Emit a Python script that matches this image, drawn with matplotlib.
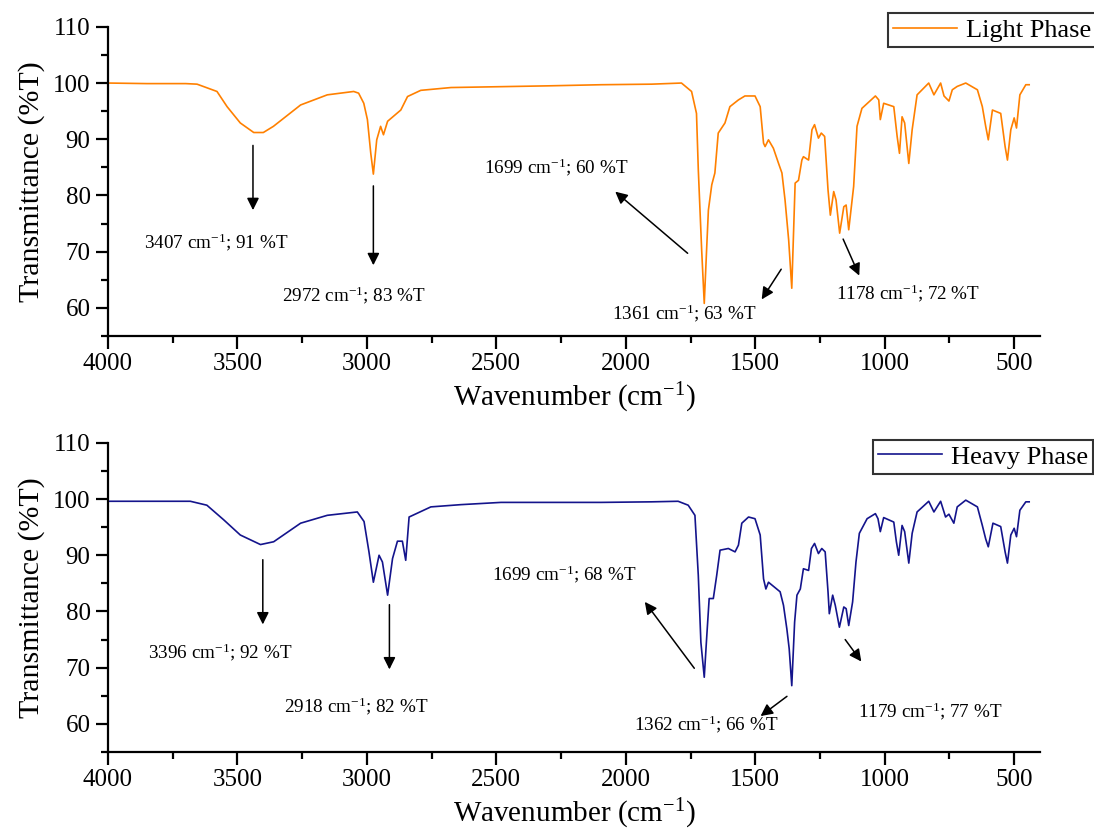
import matplotlib
matplotlib.use('Agg')
import matplotlib.pyplot as plt
from matplotlib.ticker import MultipleLocator

plt.rcParams['font.family'] = ['Liberation Serif', 'DejaVu Serif']
plt.rcParams['mathtext.default'] = 'regular'

# Light phase spectrum (wavenumber cm-1, %T)
wn_light = [4000, 3850, 3700, 3656, 3579, 3540, 3489, 3437, 3400, 3361,
            3256, 3153, 3051, 3032, 3012, 2998, 2985, 2975, 2962, 2947,
            2936, 2920, 2869, 2843, 2792, 2675, 2301, 2095, 1900, 1785,
            1746, 1727, 1720, 1707, 1697, 1688, 1681, 1668, 1656, 1643,
            1617, 1598, 1565, 1540, 1501, 1481, 1468, 1462, 1449, 1430,
            1410, 1397, 1385, 1371, 1359, 1346, 1333, 1320, 1314, 1294,
            1281, 1271, 1256, 1245, 1232, 1219, 1210, 1197, 1188, 1174,
            1158, 1149, 1139, 1120, 1107, 1088, 1036, 1023, 1017, 1004,
            965, 952, 943, 933, 923, 907, 894, 875, 830, 810,
            784, 771, 752, 739, 720, 687, 642, 623, 610, 600,
            584, 552, 535, 526, 513, 500, 491, 478, 455, 442]
t_light = [100.0, 99.9, 99.9, 99.8, 98.5, 95.8, 92.9, 91.2, 91.2, 92.3,
           96.1, 97.9, 98.5, 98.2, 96.4, 93.5, 87.5, 83.8, 89.9, 92.3,
           90.8, 93.2, 95.2, 97.6, 98.7, 99.2, 99.5, 99.7, 99.8, 100.0,
           98.5, 94.6, 84.6, 70.3, 60.8, 70.3, 77.4, 81.9, 84.0, 91.1,
           92.9, 95.8, 97.0, 97.7, 97.7, 95.8, 89.3, 88.7, 89.9, 88.4,
           85.7, 84.0, 79.2, 72.1, 63.5, 82.2, 82.7, 86.3, 86.9, 86.3,
           91.7, 92.6, 90.2, 91.1, 90.5, 81.0, 76.5, 80.7, 79.2, 73.3,
           78.0, 78.3, 73.9, 81.6, 92.3, 95.5, 97.7, 97.0, 93.5, 96.4,
           95.8, 90.5, 87.5, 94.0, 92.9, 85.7, 91.7, 97.9, 100.0, 97.9,
           100.0, 97.7, 96.8, 98.8, 99.4, 100.0, 98.8, 95.8, 92.3, 89.9,
           95.2, 94.6, 88.7, 86.3, 91.7, 93.8, 92.0, 97.9, 99.7, 99.7]

# Heavy phase spectrum
wn_heavy = [4000, 3850, 3682, 3618, 3553, 3489, 3411, 3360, 3256, 3153,
            3037, 3011, 2992, 2975, 2953, 2940, 2920, 2901, 2882, 2863,
            2850, 2837, 2753, 2637, 2482, 2095, 1900, 1798, 1759, 1733,
            1720, 1710, 1697, 1688, 1678, 1662, 1649, 1636, 1604, 1578,
            1565, 1552, 1526, 1501, 1481, 1468, 1459, 1449, 1404, 1391,
            1378, 1369, 1359, 1348, 1339, 1326, 1314, 1294, 1283, 1271,
            1256, 1243, 1230, 1219, 1214, 1201, 1191, 1175, 1158, 1149,
            1139, 1124, 1111, 1098, 1068, 1036, 1026, 1017, 1004, 965,
            955, 946, 933, 923, 907, 894, 875, 830, 810, 784,
            765, 752, 733, 720, 687, 642, 623, 610, 600, 582,
            552, 535, 526, 513, 500, 491, 478, 455, 442]
t_heavy = [99.6, 99.6, 99.6, 98.9, 96.3, 93.6, 91.9, 92.4, 95.7, 97.1,
           97.7, 96.0, 90.6, 85.2, 90.0, 88.8, 82.9, 89.4, 92.5, 92.5,
           89.1, 96.8, 98.6, 99.0, 99.4, 99.4, 99.5, 99.6, 98.9, 97.1,
           86.4, 74.5, 68.3, 75.1, 82.3, 82.3, 86.4, 90.9, 91.2, 90.6,
           91.8, 95.7, 96.8, 96.5, 93.6, 85.8, 84.0, 85.2, 83.5, 81.1,
           76.9, 73.4, 66.8, 78.1, 82.9, 84.0, 87.6, 87.3, 91.2, 92.1,
           90.3, 91.2, 90.6, 83.5, 79.6, 82.9, 81.1, 77.2, 80.8, 80.5,
           77.5, 81.7, 88.8, 93.9, 96.5, 97.4, 96.5, 94.2, 96.7, 95.9,
           92.4, 90.0, 95.3, 94.2, 88.6, 93.9, 97.7, 99.6, 97.7, 99.6,
           96.8, 97.3, 95.7, 98.6, 99.8, 98.6, 95.3, 92.9, 91.5, 95.7,
           95.1, 90.6, 88.6, 93.6, 94.8, 93.3, 98.0, 99.5, 99.5]

# peak labels
labels_light = ['3407 cm$^{-1}$; 91 %T', '2972 cm$^{-1}$; 83 %T', '1699 cm$^{-1}$; 60 %T',
                '1361 cm$^{-1}$; 63 %T', '1178 cm$^{-1}$; 72 %T']
labels_heavy = ['3396 cm$^{-1}$; 92 %T', '2918 cm$^{-1}$; 82 %T', '1699 cm$^{-1}$; 68 %T',
                '1362 cm$^{-1}$; 66 %T', '1179 cm$^{-1}$; 77 %T']

# label / arrow placement (data coords): text xy, arrow tail, arrow head
txt_light = [(3582, 71.7), (3051, 62.3), (2269, 85.1), (1773, 59.1), (909, 62.7)]
arr_light = [((3440, 89.4), (3440, 76.9)), ((2975, 82.2), (2975, 67.1)),
             ((1753, 69.4), (2049, 81.0)), ((1394, 67.3), (1481, 61.1)),
             ((1165, 72.7), (1094, 65.3))]
txt_heavy = [(3566, 72.8), (3040, 63.2), (2238, 86.7), (1688, 60.0), (824, 62.2)]
arr_heavy = [((3402, 89.7), (3402, 77.2)), ((2913, 81.7), (2913, 69.2)),
             ((1729, 69.5), (1933, 82.1)), ((1369, 65.2), (1488, 61.1)),
             ((1159, 75.4), (1084, 70.7))]

fig = plt.figure(figsize=(10.94, 8.38), dpi=100)
ax1 = fig.add_axes([0.0987, 0.599, 0.852, 0.369])
ax2 = fig.add_axes([0.0987, 0.1026, 0.852, 0.369])

panels = [(ax1, wn_light, t_light, '#FF8000', 'Light Phase', labels_light, txt_light, arr_light, (0.8117, 0.9845)),
          (ax2, wn_heavy, t_heavy, '#14148C', 'Heavy Phase', labels_heavy, txt_heavy, arr_heavy, (0.798, 0.475))]

for ax, wn, t, col, name, labs, txts, arrs, legpos in panels:
    ax.plot(wn, t, '-', color=col, lw=1.2, label=name)
    ax.set_xlim(4000, 400)
    ax.set_ylim(55, 110)
    ax.xaxis.set_major_locator(MultipleLocator(500))
    ax.xaxis.set_minor_locator(MultipleLocator(250))
    ax.yaxis.set_major_locator(MultipleLocator(10))
    ax.yaxis.set_minor_locator(MultipleLocator(5))
    ax.spines['top'].set_visible(False)
    ax.spines['right'].set_visible(False)
    for s in ['left', 'bottom']:
        ax.spines[s].set_linewidth(1.6)
    ax.tick_params(which='major', direction='out', length=9, width=1.6, labelsize=18)
    ax.tick_params(which='minor', direction='out', length=5, width=1.6)
    ax.set_xlabel('Wavenumber (cm$^{-1}$)', fontsize=21, labelpad=4)
    ax.set_ylabel('Transmittance (%T)', fontsize=21.5, labelpad=6)

    for lab, (tx, ty), (tail, head) in zip(labs, txts, arrs):
        ax.text(tx, ty, lab, fontsize=13.8, ha='center', va='center')
        ax.annotate('', xy=head, xytext=tail,
                    arrowprops=dict(arrowstyle='-|>', color='black', lw=1.1, mutation_scale=18))

    leg = ax.legend(loc='upper left', bbox_to_anchor=legpos, bbox_transform=fig.transFigure,
                    fontsize=19, frameon=True, fancybox=False, borderaxespad=0,
                    handlelength=2.4, borderpad=0.2, handletextpad=0.35)
    leg.get_frame().set_edgecolor('black')
    leg.get_frame().set_linewidth(1.5)

fig.savefig('out.png', dpi=100)
